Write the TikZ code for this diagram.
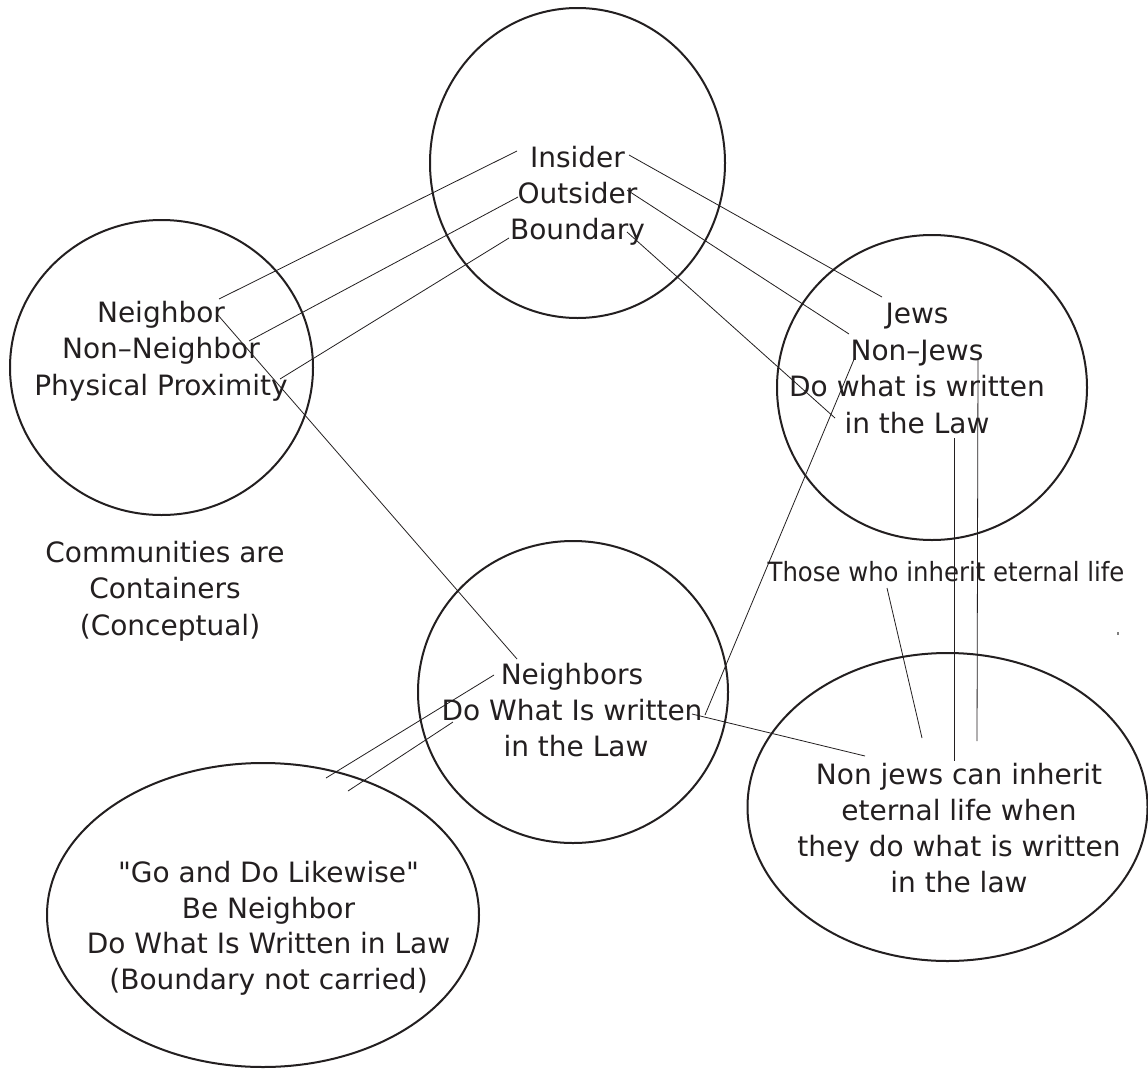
\documentclass[tikz,border=0pt]{standalone}
\usepackage{fontspec}
\setmainfont{DejaVu Sans}[Ligatures=TeXOff]
\newfontfamily\condfont{DejaVu Sans}[FakeStretch=0.92]
\usetikzlibrary{shapes.geometric}
\definecolor{ink}{HTML}{231F20}
\tikzset{
  blob/.style n args={2}{draw=ink, line width=2pt, ellipse, inner sep=0pt,
    minimum width=#1, minimum height=#2},
  lbl/.style={anchor=base, inner sep=0pt, text=ink, font=\fontsize{28}{36}\selectfont},
  smalllbl/.style={anchor=base, inner sep=0pt, text=ink, font=\condfont\fontsize{26.5}{32}\selectfont},
  link/.style={draw=ink, line width=0.8pt}
}
\begin{document}
\begin{tikzpicture}[x=1pt, y=-1pt]
\useasboundingbox (0,0) rectangle (1148,1068);
\fill[white] (0,0) rectangle (1148,1068);

% shapes
\node[blob={295pt}{310pt}] (top) at (577.5,163) {};
\node[blob={303pt}{295pt}] (left) at (161.5,367.5) {};
\node[blob={310pt}{305pt}] (right) at (932,387.5) {};
\node[blob={310pt}{302pt}] (mid) at (573,692) {};
\node[blob={432pt}{304pt}] (bl) at (263,915) {};
\node[blob={400pt}{308pt}] (br) at (947.5,807) {};

% top circle text
\node[lbl] (insider) at (577.5,167) {Insider};
\node[lbl] (outsider) at (577.5,203) {Outsider};
\node[lbl] (boundary) at (577.5,239) {Boundary};

% left circle text
\node[lbl] (neighbor) at (161,322) {Neighbor};
\node[lbl] (nonneighbor) at (161,358.5) {Non–Neighbor};
\node[lbl] (physical) at (161,395) {Physical Proximity};

% right circle text
\node[lbl] (jews) at (917,323.5) {Jews};
\node[lbl] (nonjews) at (917,360) {Non–Jews};
\node[lbl] (dowhat) at (917,396.5) {Do what is written};
\node[lbl] (inlaw) at (917,433) {in the Law};

% middle circle text
\node[lbl] (neighbors) at (572,684) {Neighbors};
\node[lbl] (dowhatmid) at (572,720) {Do What Is written};
\node[lbl] (inlawmid) at (576,756) {in the Law};

% bottom-left text
\node[lbl] (godo) at (268.5,882) {"Go and Do Likewise"};
\node[lbl] (beneighbor) at (268.5,918) {Be Neighbor};
\node[lbl] (dowritten) at (268.5,953.5) {Do What Is Written in Law};
\node[lbl] (notcarried) at (268.5,989) {(Boundary not carried)};

% bottom-right text
\node[lbl] (nonjewsinh) at (959,784) {Non jews can inherit};
\node[lbl] (eternal) at (959,820) {eternal life when};
\node[lbl] (theydo) at (959,856) {they do what is written};
\node[lbl] (inthelaw) at (959,892) {in the law};

% free labels
\node[smalllbl] (those) at (946,581.5) {Those who inherit eternal life};
\node[lbl] (comm1) at (165,562) {Communities are};
\node[lbl] (comm2) at (165,598.5) {Containers};
\node[lbl] (comm3) at (170,635) {(Conceptual)};

% connector end points
\coordinate (a1) at (517,151);  \coordinate (a2) at (219,299);
\coordinate (b1) at (518,197);  \coordinate (b2) at (249,341);
\coordinate (c1) at (509,238);  \coordinate (c2) at (280,379);
\coordinate (d1) at (629,155);  \coordinate (d2) at (882,297);
\coordinate (e1) at (627,190);  \coordinate (e2) at (849,334);
\coordinate (f1) at (627,232);  \coordinate (f2) at (835,418);
\coordinate (g1) at (217,314);  \coordinate (g2) at (517,659);
\coordinate (h1) at (855,357);  \coordinate (h2) at (705,715);
\coordinate (i1) at (692,714);  \coordinate (i2) at (865,756);
\coordinate (j1) at (494,675);  \coordinate (j2) at (326,778);
\coordinate (k1) at (453,722);  \coordinate (k2) at (348,791);
\coordinate (l1) at (887,588);  \coordinate (l2) at (922,738);
\coordinate (m1) at (954,438);  \coordinate (m2) at (954,761);
\coordinate (n1) at (978,360);  \coordinate (n2) at (977,741);

\draw[link] (a1) -- (a2);
\draw[link] (b1) -- (b2);
\draw[link] (c1) -- (c2);
\draw[link] (d1) -- (d2);
\draw[link] (e1) -- (e2);
\draw[link] (f1) -- (f2);
\draw[link] (g1) -- (g2);
\draw[link] (h1) -- (h2);
\draw[link] (i1) -- (i2);
\draw[link] (j1) -- (j2);
\draw[link] (k1) -- (k2);
\draw[link] (l1) -- (l2);
\draw[link] (m1) -- (m2);
\draw[link] (n1) -- (n2);

% stray dot
\fill[gray] (1117,632) rectangle (1119,634.5);
\end{tikzpicture}
\end{document}
